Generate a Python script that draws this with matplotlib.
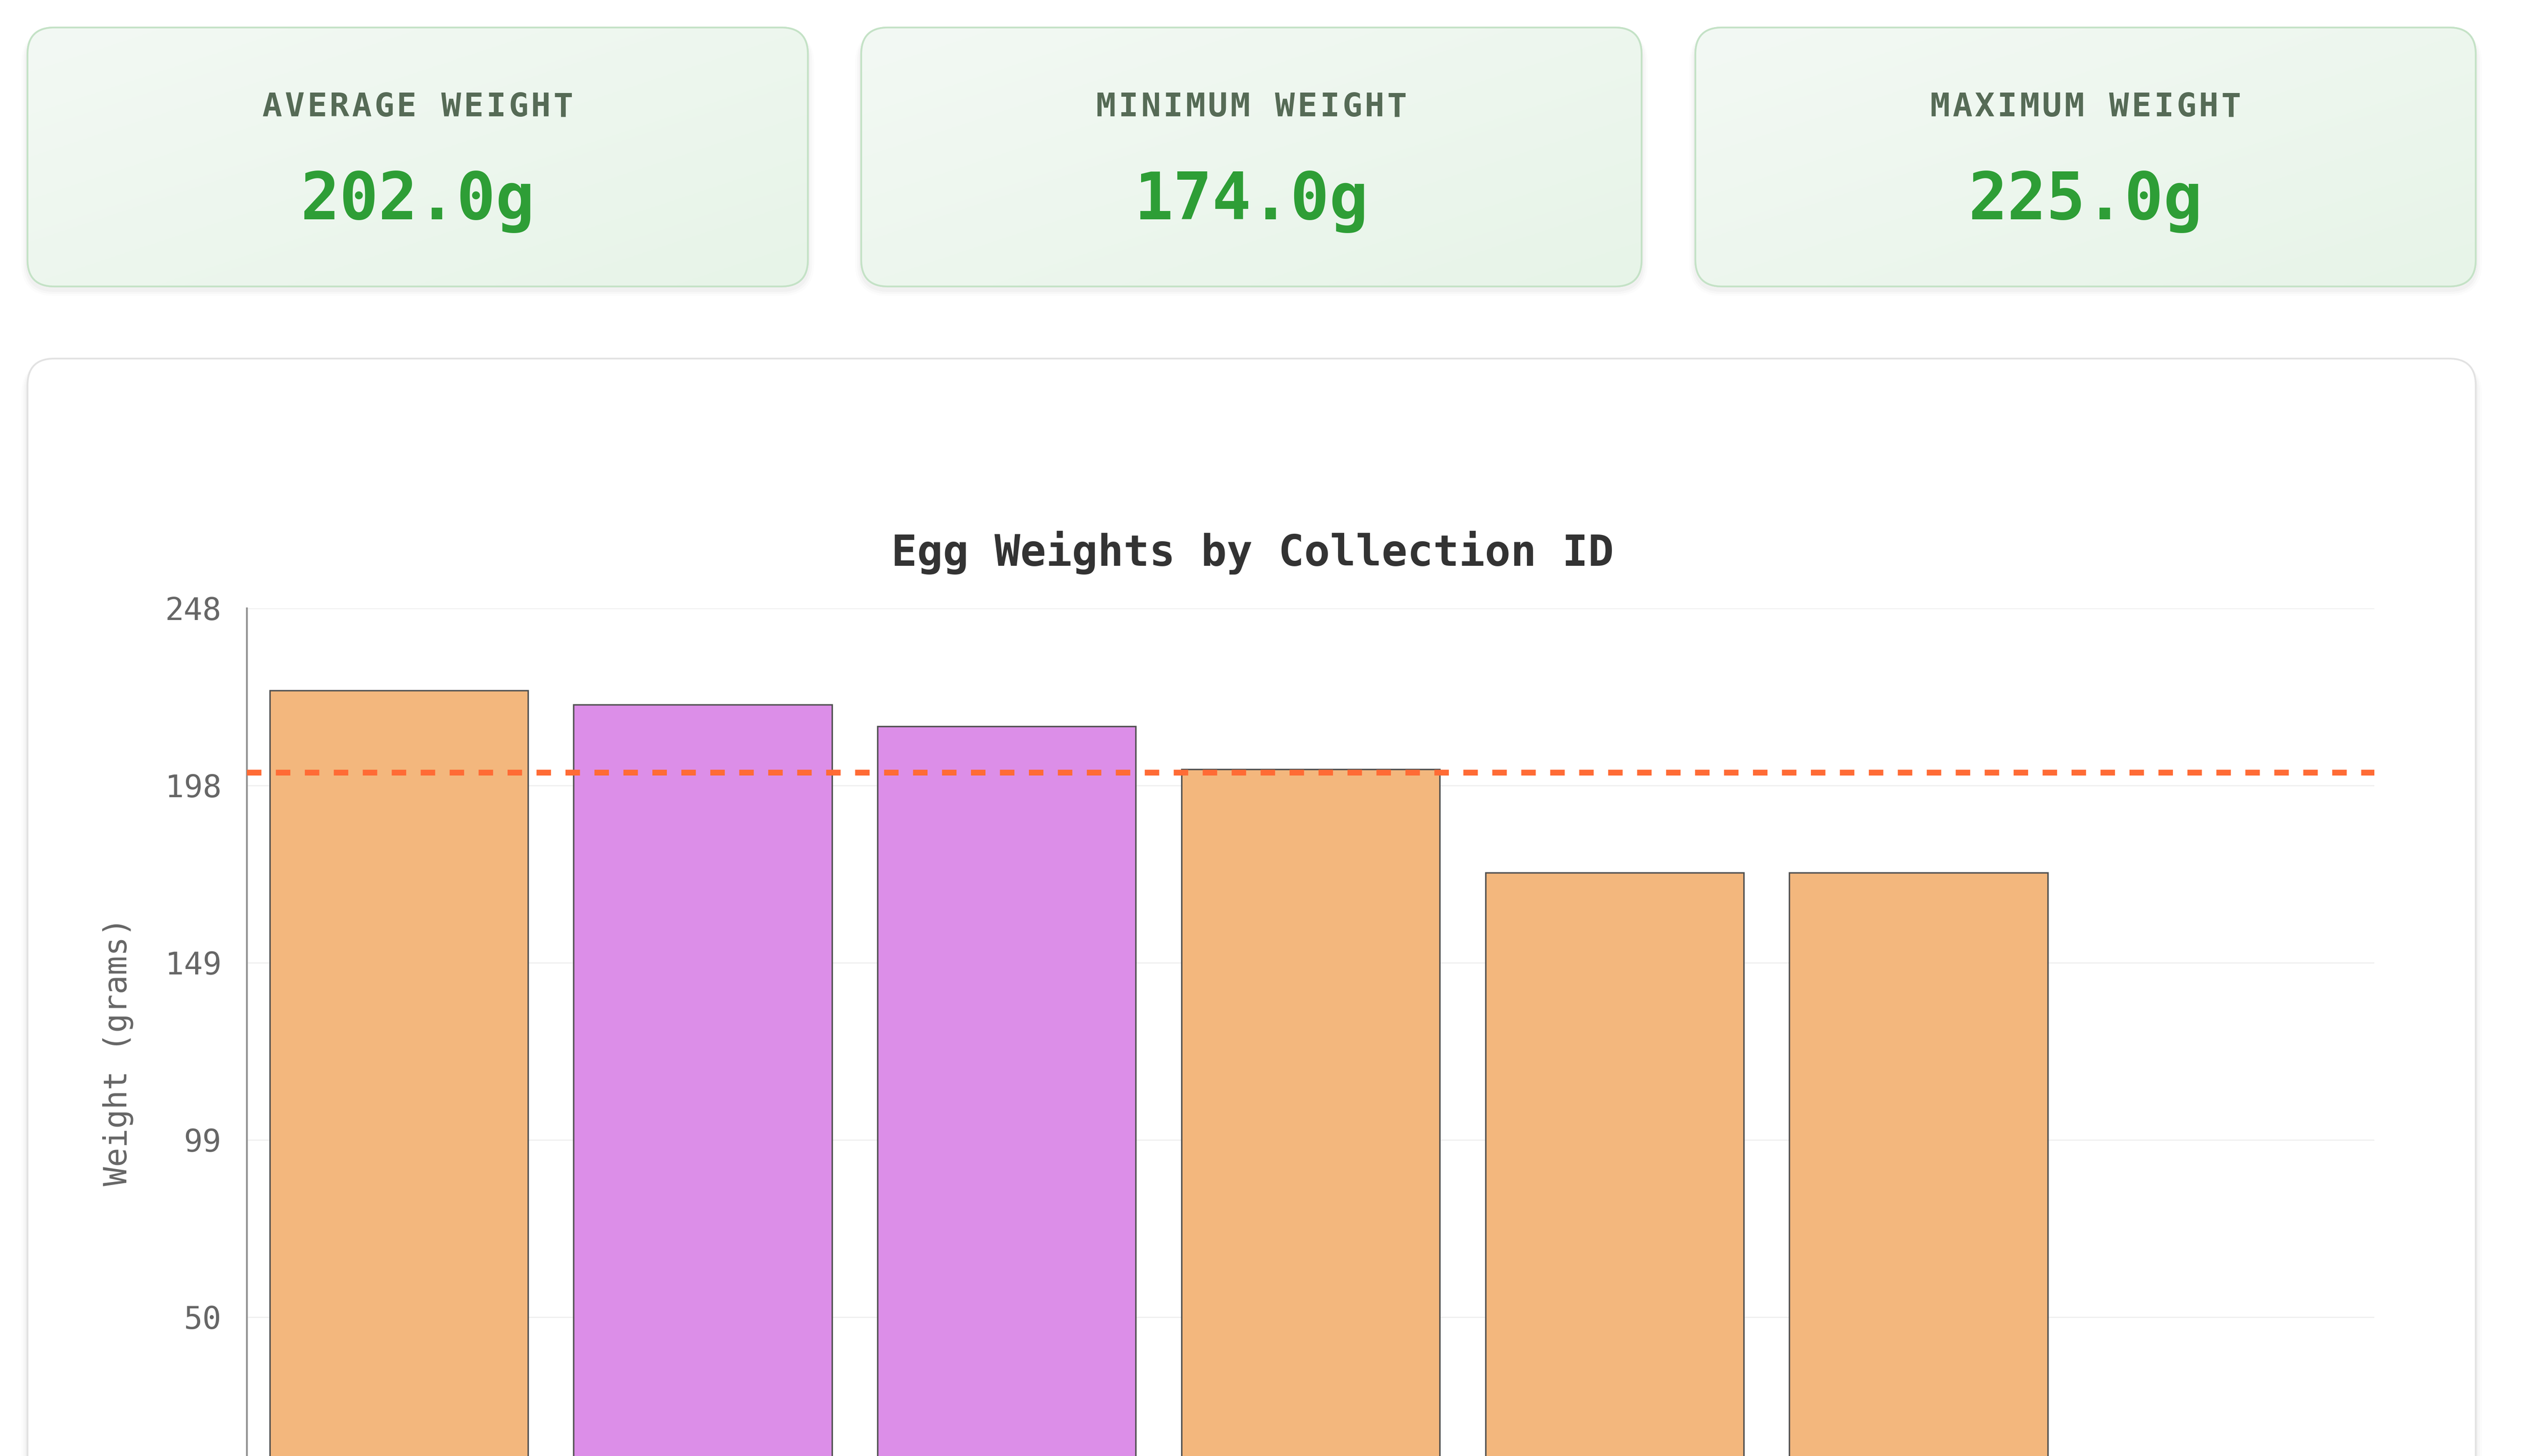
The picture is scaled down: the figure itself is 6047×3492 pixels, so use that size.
import numpy as np
import matplotlib
matplotlib.use("Agg")
import matplotlib.pyplot as plt
from matplotlib.patches import FancyBboxPatch

# data
collection_ids = ["1", "2", "3", "4", "5", "6"]
weights = [225, 221, 215, 203, 174, 174]
bar_colors = ["#F3B77D", "#DC8EE8", "#DC8EE8", "#F3B77D", "#F3B77D", "#F3B77D"]
y_max = 248
n_slots = 7

card_labels = ["AVERAGE WEIGHT", "MINIMUM WEIGHT", "MAXIMUM WEIGHT"]
card_values = [np.mean(weights), min(weights), max(weights)]

W, H = 6047, 3492
DPI = 100
MONO = "DejaVu Sans Mono"

fig = plt.figure(figsize=(W / DPI, H / DPI), dpi=DPI)
fig.patch.set_facecolor("white")

# background axes in pixel coordinates
bg = fig.add_axes([0, 0, 1, 1])
bg.set_xlim(0, W)
bg.set_ylim(H, 0)
bg.axis("off")


def card(x0, y0, w, h, face, edge, r=64, grad=None):
    # soft shadow
    for k, a in ((30, 0.012), (20, 0.018), (10, 0.025)):
        sh = FancyBboxPatch((x0 - k / 2, y0 + 8), w + k, h + k / 2,
                            boxstyle="round,pad=0,rounding_size=%d" % (r + k / 2),
                            fc="black", ec="none", alpha=a, zorder=1)
        bg.add_patch(sh)
    p = FancyBboxPatch((x0, y0), w, h, boxstyle="round,pad=0,rounding_size=%d" % r,
                       fc=face, ec=edge, lw=3, zorder=2)
    bg.add_patch(p)
    if grad is not None:
        c1 = np.array(matplotlib.colors.to_rgb(grad[0]))
        c2 = np.array(matplotlib.colors.to_rgb(grad[1]))
        gx, gy = np.meshgrid(np.linspace(0, 1, 200), np.linspace(0, 1, 60))
        t = ((gx + gy) / 2)[..., None]
        img = c1 * (1 - t) + c2 * t
        im = bg.imshow(img, extent=(x0, x0 + w, y0 + h, y0), aspect="auto",
                       zorder=2.5, interpolation="bilinear")
        im.set_clip_path(p)
        edge_p = FancyBboxPatch((x0, y0), w, h, boxstyle="round,pad=0,rounding_size=%d" % r,
                                fc="none", ec=edge, lw=3, zorder=3)
        bg.add_patch(edge_p)
    return p


# stat cards
card_w, card_h = 1871, 621
card_x0 = [66, 2065, 4065]
for x0, lab, val in zip(card_x0, card_labels, card_values):
    card(x0, 66, card_w, card_h, "#eef7ef", "#c4e2c6", grad=("#f3f9f4", "#e7f4e8"))
    cx = x0 + card_w / 2
    step = 53.7
    for i, ch in enumerate(lab):
        bg.text(cx + (i - (len(lab) - 1) / 2) * step, 279, ch, ha="center", va="baseline",
                fontsize=57, fontweight="bold", color="#566b56", family=MONO, zorder=4)
    bg.text(cx, 526, "{:.1f}g".format(val), ha="center", va="baseline",
            fontsize=112, fontweight="bold", color="#2e9e36", family=MONO, zorder=4)

# chart card
card(66, 860, 5870, 2800, "white", "#e2e2e2")

bg.text(3003, 1357, "Egg Weights by Collection ID", ha="center", va="baseline",
        fontsize=74, fontweight="bold", color="#333333", family=MONO, zorder=4)

# main plot axes (bottom runs past the canvas, like the cropped screenshot)
ax_left, ax_right = 592, 5693
ax_top, ax_bottom = 1459, 3584
ax = fig.add_axes([ax_left / W, 1 - ax_bottom / H, (ax_right - ax_left) / W,
                   (ax_bottom - ax_top) / H])
ax.patch.set_alpha(0)

x = np.arange(len(weights))
ticks = np.linspace(0, y_max, 6)[1:]  # the 0 tick falls below the cropped canvas
for t in ticks:
    ax.axhline(t, color="#efefef", lw=2, zorder=0)

ax.bar(x, weights, width=0.85, color=bar_colors, edgecolor="#505050", linewidth=2.5, zorder=2)

avg = np.mean(weights)
ax.axhline(avg, color="#FF6B35", lw=10, dashes=(2.5, 2.5), dash_capstyle="butt", zorder=3)

ax.set_xlim(-0.5, n_slots - 0.5)
ax.set_ylim(0, y_max)
ax.set_yticks(ticks)
ax.set_yticklabels(["{:.0f}".format(t) for t in ticks], family=MONO, fontsize=54, color="#666666")
ax.tick_params(axis="y", length=0, pad=44)
ax.set_xticks([])
for s in ("top", "right", "bottom"):
    ax.spines[s].set_visible(False)
ax.spines["left"].set_color("#8f8f8f")
ax.spines["left"].set_linewidth(3)

bg.text(283, 2522, "Weight (grams)", rotation=90, ha="center", va="center",
        fontsize=55, color="#666666", family=MONO, zorder=4)

fig.savefig("out.png", dpi=DPI, facecolor="white")
